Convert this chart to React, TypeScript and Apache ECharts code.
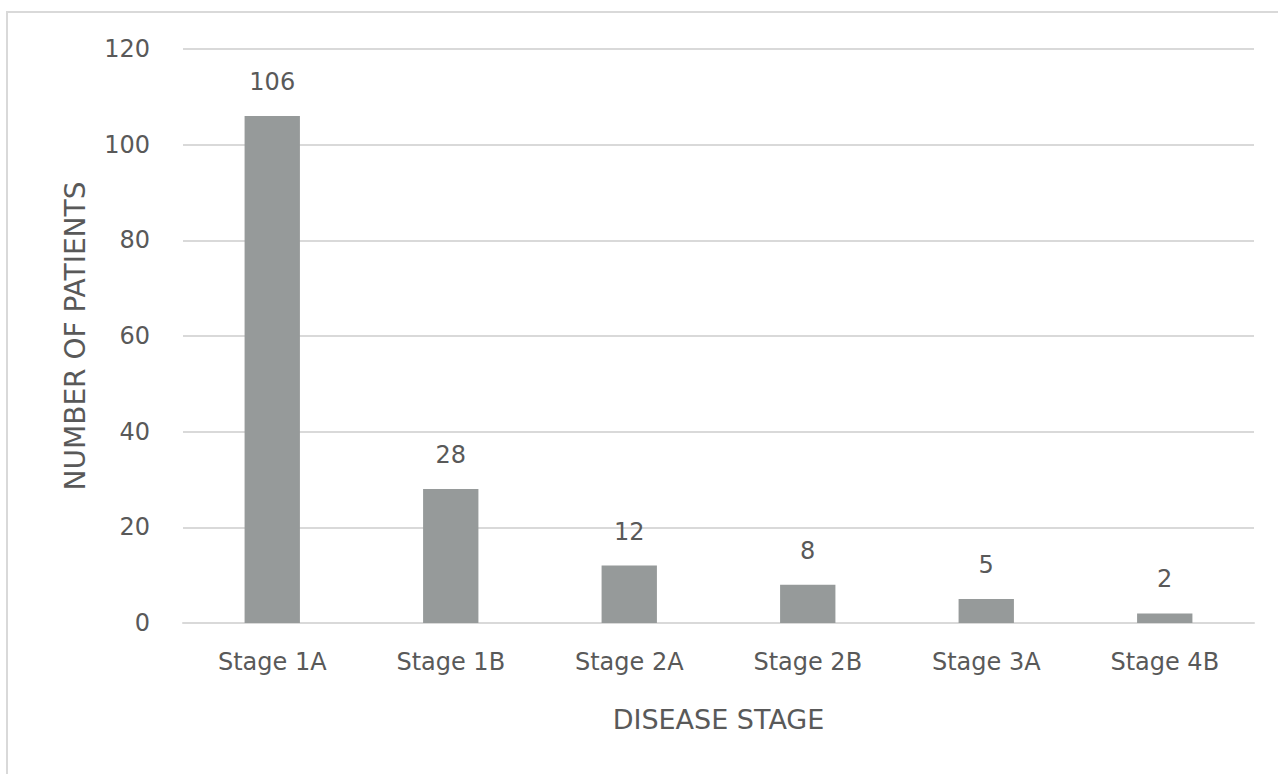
import React, { useEffect, useRef } from "react";
import * as echarts from "echarts";

const categories = ["Stage 1A", "Stage 1B", "Stage 2A", "Stage 2B", "Stage 3A", "Stage 4B"];
const patients = [106, 28, 12, 8, 5, 2];
const xAxisTitle = "DISEASE STAGE";
const yAxisTitle = "NUMBER OF PATIENTS";

const FONT = "'DejaVu Sans', 'Liberation Sans', sans-serif";
const TEXT = "#595959";
const LINE = "#d9d9d9";

export default function App() {
  const ref = useRef<HTMLDivElement>(null);
  useEffect(() => {
    if (!ref.current) return;
    const chart = echarts.init(ref.current, null, { renderer: "svg" });
    chart.setOption({
      animation: false,
      backgroundColor: "#ffffff",
      textStyle: { fontFamily: FONT },
      graphic: [
        {
          type: "rect",
          shape: { x: 7, y: 12, width: 1300, height: 800 },
          style: { fill: "none", stroke: LINE, lineWidth: 2 },
          silent: true,
        },
      ],
      grid: { left: 183, right: 24, top: 49, bottom: 151, containLabel: false },
      xAxis: {
        type: "category",
        data: categories,
        name: xAxisTitle,
        nameLocation: "middle",
        nameGap: 83,
        nameTextStyle: { color: TEXT, fontSize: 27, fontFamily: FONT },
        axisLine: { lineStyle: { color: LINE, width: 2 } },
        axisTick: { show: false },
        axisLabel: { color: TEXT, fontSize: 24, margin: 27, fontFamily: FONT },
      },
      yAxis: {
        type: "value",
        min: 0,
        max: 120,
        interval: 20,
        name: yAxisTitle,
        nameLocation: "middle",
        nameGap: 94,
        nameTextStyle: { color: TEXT, fontSize: 28, fontFamily: FONT },
        axisLine: { show: false },
        axisTick: { show: false },
        axisLabel: { color: TEXT, fontSize: 24, margin: 33, fontFamily: FONT },
        splitLine: { lineStyle: { color: LINE, width: 2 } },
      },
      series: [
        {
          type: "bar",
          data: patients,
          barWidth: "31%",
          itemStyle: { color: "#969a9a" },
          label: {
            show: true,
            position: "top",
            distance: 22,
            color: TEXT,
            fontSize: 24,
            fontFamily: FONT,
          },
        },
      ],
    });
    return () => chart.dispose();
  }, []);
  return (
    <div
      ref={ref}
      style={{ position: "fixed", left: 0, top: 0, width: 1278, height: 774 }}
    />
  );
}
